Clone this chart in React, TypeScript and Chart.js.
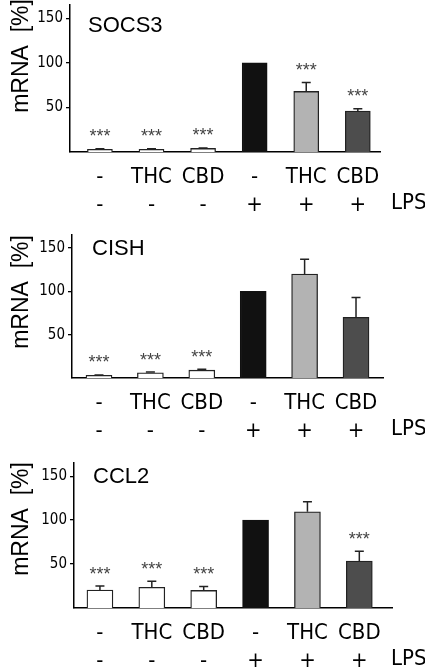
import React, { useEffect, useRef } from "react";
import { Chart, registerables } from "chart.js";

Chart.register(...registerables);

// ---------- data ----------
const treatments = ["-", "THC", "CBD", "-", "THC", "CBD"];
const lpsRow = ["-", "-", "-", "+", "+", "+"];
const yTickValues = [50, 100, 150];

const socs3Values = [3, 3, 4, 100, 68, 46];
const socs3Errors = [0.6, 0.6, 0.6, 0, 10, 2.5];
const socs3Stars = ["***", "***", "***", "", "***", "***"];

const cishValues = [3, 6, 9, 100, 120, 70];
const cishErrors = [0.6, 0.8, 1, 0, 17, 23];
const cishStars = ["***", "***", "***", "", "", ""];

const ccl2Values = [20.5, 23.5, 20, 100, 109.5, 53.5];
const ccl2Errors = [4.5, 7, 4.5, 0, 11.5, 11];
const ccl2Stars = ["***", "***", "***", "", "", "***"];

// ---------- styles ----------
const barFills = ["#ffffff", "#ffffff", "#ffffff", "#111111", "#b3b3b3", "#4d4d4d"];
const barBorders = ["#222222", "#222222", "#222222", "#111111", "#222222", "#222222"];
const SANS = "'Liberation Sans', Arial, sans-serif";
const NARROW = "'Liberation Sans Narrow', 'DejaVu Sans Condensed', 'Arial Narrow', sans-serif";

type PanelCfg = {
  name: string;
  values: number[];
  errors: number[];
  stars: string[];
  top: number;
  height: number;
  padTop: number;
  xAxisH: number;
  yWidth: number;
  padRight: number;
  xMin: number;
  xMax: number;
  barThickness: number;
  nameDx: number;
  nameDy: number;
  yTitleDy: number;
};

const panels: PanelCfg[] = [
  {
    name: "SOCS3", values: socs3Values, errors: socs3Errors, stars: socs3Stars,
    top: 0, height: 220, padTop: 5, xAxisH: 68, yWidth: 70, padRight: 45,
    xMin: -0.58, xMax: 5.43, barThickness: 25, nameDx: 18, nameDy: 27, yTitleDy: 51,
  },
  {
    name: "CISH", values: cishValues, errors: cishErrors, stars: cishStars,
    top: 220, height: 220, padTop: 15, xAxisH: 62, yWidth: 72, padRight: 42,
    xMin: -0.525, xMax: 5.525, barThickness: 26, nameDx: 20, nameDy: 20, yTitleDy: 57,
  },
  {
    name: "CCL2", values: ccl2Values, errors: ccl2Errors, stars: ccl2Stars,
    top: 440, height: 228, padTop: 23, xAxisH: 60, yWidth: 74, padRight: 33,
    xMin: -0.5, xMax: 5.63, barThickness: 26, nameDx: 19, nameDy: 20, yTitleDy: 56,
  },
];

function makeOverlay(p: PanelCfg) {
  return {
    id: "overlay_" + p.name,
    afterDatasetsDraw(chart: any) {
      const ctx = chart.ctx as CanvasRenderingContext2D;
      const xs = chart.scales.x;
      const ys = chart.scales.y;
      const area = chart.chartArea;
      ctx.save();
      // error bars
      ctx.strokeStyle = "#222";
      ctx.lineWidth = 1.5;
      p.values.forEach((v, i) => {
        const e = p.errors[i];
        if (!e) return;
        const x = xs.getPixelForValue(i);
        const y0 = ys.getPixelForValue(v);
        const y1 = ys.getPixelForValue(v + e);
        ctx.beginPath();
        ctx.moveTo(x, y0);
        ctx.lineTo(x, y1);
        ctx.moveTo(x - 4.5, y1);
        ctx.lineTo(x + 4.5, y1);
        ctx.stroke();
      });
      // significance stars
      ctx.fillStyle = "#444";
      ctx.font = `18px ${SANS}`;
      ctx.textAlign = "center";
      ctx.textBaseline = "alphabetic";
      p.stars.forEach((s, i) => {
        if (!s) return;
        const x = xs.getPixelForValue(i);
        const yTop = ys.getPixelForValue(p.values[i] + p.errors[i]);
        const cy = yTop - 17;
        ctx.fillText(s, x, cy + 10.5);
      });
      // gene name
      ctx.fillStyle = "#000";
      ctx.font = `22px ${SANS}`;
      ctx.textAlign = "left";
      ctx.fillText(p.name, area.left + p.nameDx, area.top + p.nameDy);
      // LPS label
      ctx.font = `22px ${NARROW}`;
      ctx.textBaseline = "middle";
      ctx.fillText("LPS", 391, area.bottom + 51);
      // y-axis title
      ctx.save();
      ctx.translate(28, area.top + p.yTitleDy);
      ctx.rotate(-Math.PI / 2);
      ctx.font = `23px ${SANS}`;
      ctx.textAlign = "center";
      ctx.textBaseline = "alphabetic";
      ctx.fillText("mRNA  [%]", 0, 0);
      ctx.restore();
      ctx.restore();
    },
  };
}

function Panel({ p }: { p: PanelCfg }) {
  const ref = useRef<HTMLCanvasElement>(null);
  useEffect(() => {
    const canvas = ref.current;
    if (!canvas) return;
    const chart = new Chart(canvas, {
      type: "bar",
      data: {
        datasets: [
          {
            data: p.values.map((v, i) => ({ x: i, y: v })),
            backgroundColor: barFills,
            borderColor: barBorders,
            borderWidth: 1.3,
            borderSkipped: "start",
            barThickness: p.barThickness,
          } as any,
        ],
      },
      options: {
        responsive: false,
        animation: false,
        events: [],
        layout: { padding: { top: p.padTop, right: p.padRight, left: 0, bottom: 0 } },
        plugins: { legend: { display: false }, tooltip: { enabled: false } },
        scales: {
          x: {
            type: "linear",
            min: p.xMin,
            max: p.xMax,
            offset: false,
            afterBuildTicks: (s: any) => {
              s.ticks = treatments.map((_, i) => ({ value: i }));
            },
            afterFit: (s: any) => {
              s.height = p.xAxisH;
              s.paddingLeft = 0;
              s.paddingRight = 0;
            },
            grid: { display: false },
            border: { display: true, color: "#000", width: 1.5 },
            ticks: {
              autoSkip: false,
              maxRotation: 0,
              minRotation: 0,
              padding: 3,
              color: "#000",
              font: { family: NARROW, size: 22, lineHeight: 28 / 22 },
              callback: (v: any) => [treatments[v], lpsRow[v]],
            },
          },
          y: {
            type: "linear",
            min: 0,
            max: 165,
            afterBuildTicks: (s: any) => {
              s.ticks = yTickValues.map((v) => ({ value: v }));
            },
            afterFit: (s: any) => {
              s.width = p.yWidth;
              s.paddingTop = 0;
              s.paddingBottom = 0;
            },
            grid: {
              display: true,
              drawOnChartArea: false,
              drawTicks: true,
              tickLength: 4,
              color: "#000",
              lineWidth: 1.3,
            },
            border: { display: true, color: "#000", width: 1.5 },
            ticks: { color: "#000", padding: 3, font: { family: NARROW, size: 15 } },
          },
        },
      } as any,
      plugins: [makeOverlay(p)],
    });
    return () => chart.destroy();
  }, [p]);
  return (
    <canvas
      ref={ref}
      width={425}
      height={p.height}
      style={{ position: "absolute", left: 0, top: p.top, width: 425, height: p.height }}
    />
  );
}

export default function App() {
  return (
    <div style={{ position: "absolute", left: 0, top: 0, width: 425, height: 668, background: "#fff" }}>
      {panels.map((p) => (
        <Panel key={p.name} p={p} />
      ))}
    </div>
  );
}
